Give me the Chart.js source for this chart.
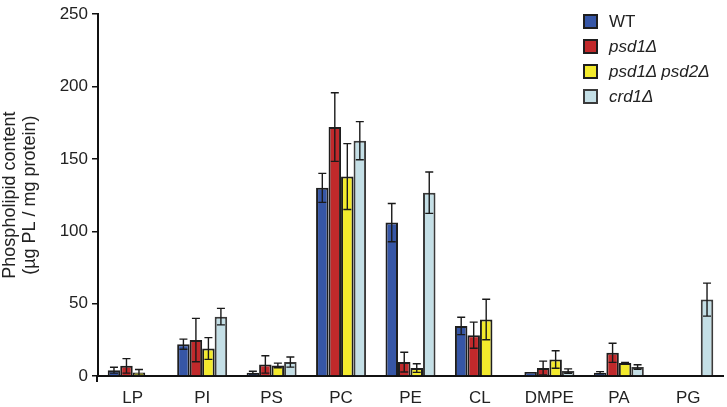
<!DOCTYPE html>
<html>
<head>
<meta charset="utf-8">
<script src="https://cdn.jsdelivr.net/npm/chart.js@4.4.1/dist/chart.umd.min.js"></script>
<style>
  html, body { margin: 0; padding: 0; background: #fff; }
  #wrap { position: relative; width: 727px; height: 407px; }
  #legend { position: absolute; left: 583px; top: 9px; font-family: "Liberation Sans", Arial, sans-serif; font-size: 17px; color: #222; }
  #legend .row { display: flex; align-items: center; height: 25px; }
  #legend .box { width: 11px; height: 11px; border: 2px solid #222; margin-right: 11px; }
</style>
</head>
<body>
<div id="wrap">
  <canvas id="chart" width="727" height="407"></canvas>
  <div id="legend"></div>
</div>
<script>
const categories = ['LP', 'PI', 'PS', 'PC', 'PE', 'CL', 'DMPE', 'PA', 'PG'];

const wtValues    = [4, 22, 2.3, 130, 106, 34.6, 2.7, 2.3, null];
const wtErrors    = [2, 3.5, 1, 10, 13.2, 6, 0, 0.7, null];
const psd1Values  = [7, 24.8, 8, 172, 9.6, 28.2, 5.5, 16, null];
const psd1Errors  = [5, 15, 6, 23.7, 6.8, 9, 4.8, 6.6, null];
const psd12Values = [2.5, 19, 7.3, 137.8, 5.5, 39, 11.4, 8.9, null];
const psd12Errors = [2, 7.5, 1.6, 22.8, 3, 14, 6, 0.5, null];
const crd1Values  = [null, 41, 9.6, 162.6, 126.7, null, 3.4, 6.2, 52.8];
const crd1Errors  = [null, 5.7, 3.5, 13.2, 14.3, null, 1.5, 1.6, 11.4];

const yTicks = [0, 50, 100, 150, 200, 250];

const series = [
  { label: 'WT', italic: false, data: wtValues, errors: wtErrors, color: '#3656a6', border: '#1e1e1e' },
  { label: 'psd1Δ', italic: true, data: psd1Values, errors: psd1Errors, color: '#c1292b', border: '#1e1e1e' },
  { label: 'psd1Δ psd2Δ', italic: true, data: psd12Values, errors: psd12Errors, color: '#f3ea2c', border: '#1e1e1e' },
  { label: 'crd1Δ', italic: true, data: crd1Values, errors: crd1Errors, color: '#c4dfe6', border: '#3a3a3a' }
];

const FONT = '"Liberation Sans", Arial, sans-serif';

// error bars drawn on top of each bar, plus the little stub of y axis under the baseline
const errorBars = {
  id: 'errorBars',
  afterDatasetsDraw(chart) {
    const ctx = chart.ctx;
    const y = chart.scales.y;
    ctx.save();
    ctx.strokeStyle = '#1a1a1a';
    ctx.lineWidth = 1.4;
    chart.data.datasets.forEach((ds, i) => {
      const meta = chart.getDatasetMeta(i);
      meta.data.forEach((bar, j) => {
        const v = ds.data[j];
        const e = ds.errors[j];
        if (v == null || !e) return;
        const top = y.getPixelForValue(v + e);
        const bot = y.getPixelForValue(Math.max(0, v - e));
        const half = 4;
        ctx.beginPath();
        ctx.moveTo(bar.x, top);
        ctx.lineTo(bar.x, bot);
        ctx.moveTo(bar.x - half, top);
        ctx.lineTo(bar.x + half, top);
        ctx.moveTo(bar.x - half, bot);
        ctx.lineTo(bar.x + half, bot);
        ctx.stroke();
      });
    });
    const area = chart.chartArea;
    ctx.strokeStyle = '#111';
    ctx.lineWidth = 2;
    ctx.beginPath();
    ctx.moveTo(area.left - 1, area.bottom);
    ctx.lineTo(area.left - 1, area.bottom + 6);
    ctx.stroke();
    ctx.restore();
  }
};

new Chart(document.getElementById('chart'), {
  type: 'bar',
  data: {
    labels: categories,
    datasets: series.map((s) => ({
      label: s.label,
      data: s.data,
      errors: s.errors,
      backgroundColor: s.color,
      borderColor: s.border,
      borderWidth: 2,
      categoryPercentage: 0.72,
      barPercentage: 1.0
    }))
  },
  options: {
    responsive: false,
    animation: false,
    layout: { padding: { top: 10, right: 4, left: 0, bottom: 0 } },
    plugins: { legend: { display: false }, tooltip: { enabled: false } },
    scales: {
      x: {
        grid: { display: false },
        border: { display: true, color: '#111', width: 2 },
        ticks: { color: '#222', font: { family: FONT, size: 17 }, padding: 4 },
        afterFit(scale) { scale.height = 31; }
      },
      y: {
        min: 0,
        max: 250,
        afterBuildTicks(scale) { scale.ticks = yTicks.map((v) => ({ value: v })); },
        grid: { drawOnChartArea: false, drawTicks: true, tickLength: 6, color: '#111', lineWidth: 1.5 },
        border: { display: true, color: '#111', width: 2 },
        ticks: { color: '#222', font: { family: FONT, size: 17 }, padding: 4 },
        title: {
          display: true,
          text: ['Phospholipid content', '(µg PL / mg protein)'],
          color: '#222',
          font: { family: FONT, size: 18, lineHeight: 1.1 },
          padding: { top: 0, bottom: 2 }
        },
        afterFit(scale) { scale.width = 98; }
      }
    }
  },
  plugins: [errorBars]
});

// legend as html so the mutant names can be italic
const legendEl = document.getElementById('legend');
series.forEach((s) => {
  const row = document.createElement('div');
  row.className = 'row';
  const box = document.createElement('span');
  box.className = 'box';
  box.style.background = s.color;
  box.style.borderColor = s.border;
  const txt = document.createElement('span');
  txt.textContent = s.label;
  if (s.italic) txt.style.fontStyle = 'italic';
  row.appendChild(box);
  row.appendChild(txt);
  legendEl.appendChild(row);
});
</script>
</body>
</html>
